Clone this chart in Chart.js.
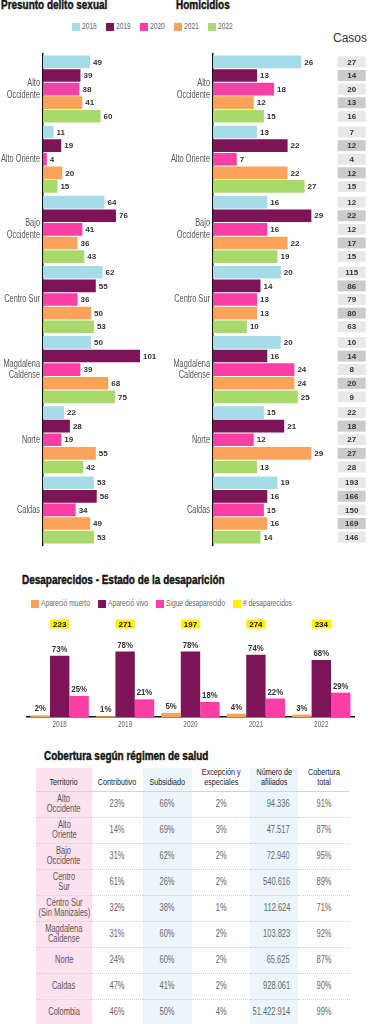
<!DOCTYPE html>
<html><head><meta charset="utf-8">
<script src="https://cdn.jsdelivr.net/npm/chart.js@4.4.0/dist/chart.umd.min.js"></script>
<style>
html,body{margin:0;padding:0;background:#fff;}
body{width:368px;height:1024px;overflow:hidden;position:relative;font-family:'Liberation Sans',Arial,sans-serif;}
.abs{position:absolute;}
.title{font-weight:bold;font-size:12px;color:#111;white-space:nowrap;line-height:1;transform:scaleX(0.83);transform-origin:0 0;-webkit-text-stroke:0.4px #111;}
.leg .it{position:absolute;top:0;height:9px;display:flex;align-items:center;white-space:nowrap;}
.leg .sw{display:inline-block;width:8px;height:8px;margin-right:2px;flex:none;}
.leg .tx{display:inline-block;font-size:9px;color:#666;line-height:1;transform:scaleX(0.74);transform-origin:0 50%;}
canvas{position:absolute;}
table{border-collapse:collapse;table-layout:fixed;position:absolute;left:36px;top:768px;width:314px;}
td,th{padding:0;overflow:visible;}
th{font-weight:normal;height:20px;border-bottom:1px solid #d4d4d4;vertical-align:bottom;}
td{height:25px;border-bottom:1px dotted #d0d0d0;}
tr:last-child td{border-bottom:1.5px solid #d4d4d4;}
.pk{background:#fde1ef;}
.bl{background:#ecf6fa;}
.c{display:flex;justify-content:center;align-items:center;height:100%;}
th .c{align-items:flex-end;padding-bottom:3px;box-sizing:border-box;}
.c.r{justify-content:flex-end;padding-right:8px;}
.c span{flex:none;white-space:nowrap;text-align:center;display:inline-block;}
td .c span{font-size:10px;color:#666;line-height:1.05;transform:scaleX(0.75);}
td .c.t span{color:#555;}
th .c span{font-size:9px;color:#222;line-height:1.1;transform:scaleX(0.8);}
.c.r span{transform-origin:100% 50%;}
</style></head>
<body>
<div class="abs title" style="left:1px;top:-1px;">Presunto delito sexual</div>
<div class="abs title" style="left:176px;top:-1px;">Homicidios</div>
<div class="abs" style="left:333px;top:32px;font-size:12px;line-height:1;color:#333;">Casos</div>
<div id="leg1" class="abs leg" style="left:0;top:22px;width:368px;height:9px;"></div>
<canvas id="c1" width="184" height="550" style="left:0;top:0;width:184px;height:550px;"></canvas>
<canvas id="c2" width="198" height="550" style="left:170px;top:0;width:198px;height:550px;"></canvas>

<div class="abs title" style="left:22px;top:574px;">Desaparecidos - Estado de la desaparición</div>
<div id="leg2" class="abs leg" style="left:0;top:599px;width:368px;height:9px;"></div>
<canvas id="c3" width="368" height="130" style="left:0;top:610px;width:368px;height:130px;"></canvas>

<div class="abs title" style="left:44px;top:750px;">Cobertura según régimen de salud</div>
<table id="tbl"></table>

<script>
// ---------- Data: Presunto delito sexual / Homicidios ----------
const regions = [['Alto','Occidente'], 'Alto Oriente', ['Bajo','Occidente'], 'Centro Sur', ['Magdalena','Caldense'], 'Norte', 'Caldas'];
const years = ['2018','2019','2020','2021','2022'];
const yearColors = ['#a6dbe8','#7e1457','#fb3fa6','#fca35b','#a9d96b'];

const delito2018 = [49, 11, 64, 62, 50, 22, 53];
const delito2019 = [39, 19, 76, 55, 101, 28, 56];
const delito2020 = [38, 4, 41, 36, 39, 19, 34];
const delito2021 = [41, 20, 36, 50, 68, 55, 49];
const delito2022 = [60, 15, 43, 53, 75, 42, 53];

const homic2018 = [26, 13, 16, 20, 20, 15, 19];
const homic2019 = [13, 22, 29, 14, 16, 21, 16];
const homic2020 = [18, 7, 16, 13, 24, 12, 15];
const homic2021 = [12, 22, 22, 13, 24, 29, 16];
const homic2022 = [15, 27, 19, 10, 25, 13, 14];

const casos2018 = [27, 7, 12, 115, 10, 22, 193];
const casos2019 = [14, 12, 22, 86, 14, 18, 166];
const casos2020 = [20, 4, 12, 79, 8, 27, 150];
const casos2021 = [13, 12, 17, 80, 20, 27, 169];
const casos2022 = [16, 15, 15, 63, 9, 28, 146];

// ---------- Data: Desaparecidos ----------
const desapYears = ['2018','2019','2020','2021','2022'];
const desapLabels = ['Apareció muerto','Apareció vivo','Sigue desaparecido'];
const desapColors = ['#fca35b','#7e1457','#fb3fa6'];
const aparecioMuerto = [2, 1, 5, 4, 3];
const aparecioVivo = [73, 78, 78, 74, 68];
const sigueDesaparecido = [25, 21, 18, 22, 29];
const totalDesaparecidos = [223, 271, 197, 274, 234];
const totalLabel = '# desaparecidos';
const totalColor = '#fff200';

// ---------- Data: Cobertura ----------
const tblHeaders = ['Territorio','Contributivo','Subsidiado','Excepción y<br>especiales','Número de<br>afiliados','Cobertura<br>total'];
const tblTerritorios = ['Alto<br>Occidente','Alto<br>Oriente','Bajo<br>Occidente','Centro<br>Sur','Centro Sur<br>(Sin Manizales)','Magdalena<br>Caldense','Norte','Caldas','Colombia'];
const tblContributivo = ['23%','14%','31%','61%','32%','31%','24%','47%','46%'];
const tblSubsidiado = ['66%','69%','62%','26%','38%','60%','60%','41%','50%'];
const tblExcepcion = ['2%','3%','2%','2%','1%','2%','2%','2%','4%'];
const tblAfiliados = ['94.336','47.517','72.940','540.616','112.624','103.823','65.625','928.061','51.422.914'];
const tblCobertura = ['91%','87%','95%','89%','71%','92%','87%','90%','99%'];

// ---------- Fonts / helpers ----------
const SANS = "'Liberation Sans', Arial, sans-serif";
function narrowText(ctx, text, x, y, align, sx){
  ctx.save(); ctx.translate(x, y); ctx.scale(sx, 1); ctx.textAlign = align; ctx.fillText(text, 0, 0); ctx.restore();
}

// ---------- Legends ----------
function legendItem(parent, left, color, text){
  const it=document.createElement('div'); it.className='it'; it.style.left=left+'px';
  it.innerHTML='<span class="sw" style="background:'+color+'"></span><span class="tx">'+text+'</span>';
  parent.appendChild(it);
}
const leg1=document.getElementById('leg1');
years.forEach((y,i)=>legendItem(leg1, 72+i*34, yearColors[i], y));
const leg2=document.getElementById('leg2');
const leg2Pos=[31,98,156,233];
desapLabels.forEach((l,i)=>legendItem(leg2, leg2Pos[i], desapColors[i], l));
legendItem(leg2, leg2Pos[3], totalColor, totalLabel);

// ---------- Plugins ----------
const valueLabels = {
  id:'valueLabels',
  afterDatasetsDraw(chart){
    const ctx=chart.ctx; ctx.save();
    ctx.font='bold 8px '+SANS; ctx.fillStyle='#333'; ctx.textBaseline='middle'; ctx.textAlign='left';
    chart.data.datasets.forEach((ds,i)=>{
      chart.getDatasetMeta(i).data.forEach((el,j)=>{ ctx.fillText(String(ds.data[j]), el.x+3, el.y+0.5); });
    });
    ctx.restore();
  }
};
const catLabels = {
  id:'catLabels',
  afterDraw(chart){
    const ctx=chart.ctx, ys=chart.scales.y; ctx.save();
    ctx.font='10px '+SANS; ctx.fillStyle='#555'; ctx.textBaseline='middle';
    chart.data.labels.forEach((lab,j)=>{
      const yc=ys.getPixelForValue(j);
      const lines=Array.isArray(lab)?lab:[lab];
      const lh=11.5;
      lines.forEach((ln,k)=>narrowText(ctx, ln, ys.right-3, yc+(k-(lines.length-1)/2)*lh, 'right', 0.74));
    });
    ctx.restore();
  }
};
const casosSeries=[casos2018,casos2019,casos2020,casos2021,casos2022];
const casosPlugin = {
  id:'casos',
  afterDatasetsDraw(chart){
    const ctx=chart.ctx; ctx.save();
    const x0=chart.chartArea.right+6, w=28;
    ctx.font='bold 8px '+SANS; ctx.textBaseline='middle'; ctx.textAlign='center';
    chart.data.datasets.forEach((ds,i)=>{
      chart.getDatasetMeta(i).data.forEach((el,j)=>{
        ctx.fillStyle = (i%2) ? '#cbcbcb' : '#e8e8e8';
        ctx.fillRect(x0, el.y-5.5, w, 11);
        ctx.fillStyle='#333';
        ctx.fillText(String(casosSeries[i][j]), x0+w/2, el.y+0.5);
      });
    });
    ctx.restore();
  }
};

function hbarConfig(series, xmax, padRight, extraPlugins){
  return {
    type:'bar',
    data:{ labels:regions, datasets: series.map((d,i)=>({label:years[i], data:d, backgroundColor:yearColors[i], borderWidth:0, categoryPercentage:0.97, barPercentage:0.93})) },
    options:{
      indexAxis:'y', responsive:false, animation:false, devicePixelRatio:1,
      layout:{padding:{top:54,bottom:5,left:0,right:padRight}},
      plugins:{legend:{display:false}, tooltip:{enabled:false}},
      scales:{
        x:{display:false, min:0, max:xmax},
        y:{
          grid:{display:false, drawTicks:false},
          border:{display:true, color:'#111', width:1.5},
          ticks:{display:false},
          afterFit(scale){ scale.width=43; }
        }
      }
    },
    plugins:[valueLabels, catLabels].concat(extraPlugins||[])
  };
}
new Chart(document.getElementById('c1'), hbarConfig([delito2018,delito2019,delito2020,delito2021,delito2022], 140, 6.6));
new Chart(document.getElementById('c2'), hbarConfig([homic2018,homic2019,homic2020,homic2021,homic2022], 35, 36.3, [casosPlugin]));

// ---------- Desaparecidos chart ----------
const desapPlugin = {
  id:'desapLabels',
  afterDatasetsDraw(chart){
    const ctx=chart.ctx; ctx.save();
    ctx.font='bold 8.5px '+SANS; ctx.fillStyle='#333'; ctx.textAlign='center'; ctx.textBaseline='bottom';
    chart.data.datasets.forEach((ds,i)=>{
      chart.getDatasetMeta(i).data.forEach((el,j)=>{ narrowText(ctx, ds.data[j]+'%', el.x, el.y-2, 'center', 0.92); });
    });
    const meta=chart.getDatasetMeta(1);
    const yc=chart.chartArea.top-9;
    ctx.textBaseline='middle'; ctx.font='bold 8px '+SANS;
    meta.data.forEach((el,j)=>{
      ctx.fillStyle=totalColor; ctx.fillRect(el.x-el.width/2, yc-4.5, el.width, 9);
      ctx.fillStyle='#111'; ctx.fillText(String(totalDesaparecidos[j]), el.x, yc+0.5);
    });
    // x labels
    const xs=chart.scales.x;
    ctx.font='9px '+SANS; ctx.fillStyle='#666'; ctx.textBaseline='middle';
    chart.data.labels.forEach((lab,j)=>narrowText(ctx, lab, xs.getPixelForValue(j), xs.top+8, 'center', 0.72));
    ctx.restore();
  }
};
new Chart(document.getElementById('c3'), {
  type:'bar',
  data:{ labels:desapYears, datasets:[aparecioMuerto,aparecioVivo,sigueDesaparecido].map((d,i)=>({label:desapLabels[i], data:d, backgroundColor:desapColors[i], borderWidth:0, categoryPercentage:0.89, barPercentage:1})) },
  options:{
    responsive:false, animation:false, devicePixelRatio:1,
    layout:{padding:{top:23,bottom:3,left:27,right:14}},
    plugins:{legend:{display:false}, tooltip:{enabled:false}},
    scales:{
      y:{display:false, min:0, max:100},
      x:{
        grid:{display:false, drawTicks:false},
        border:{display:true, color:'#111', width:1.5},
        ticks:{display:false},
        afterFit(scale){ scale.height=20; }
      }
    }
  },
  plugins:[desapPlugin]
});

// ---------- Table ----------
const tbl=document.getElementById('tbl');
const colW=[56,51,49,58,48,52];
let html='<colgroup>'+colW.map(w=>'<col style="width:'+w+'px">').join('')+'</colgroup>';
const cls=['pk','','bl','','bl',''];
html+='<tr>'+tblHeaders.map((h,i)=>'<th class="'+cls[i]+'"><div class="c"><span>'+h+'</span></div></th>').join('')+'</tr>';
tblTerritorios.forEach((t,r)=>{
  const row=[t,tblContributivo[r],tblSubsidiado[r],tblExcepcion[r],tblAfiliados[r],tblCobertura[r]];
  html+='<tr>'+row.map((v,i)=>'<td class="'+cls[i]+'"><div class="c'+(i===4?' r':'')+(i===0?' t':'')+'"><span>'+v+'</span></div></td>').join('')+'</tr>';
});
tbl.innerHTML=html;
</script>
</body></html>
